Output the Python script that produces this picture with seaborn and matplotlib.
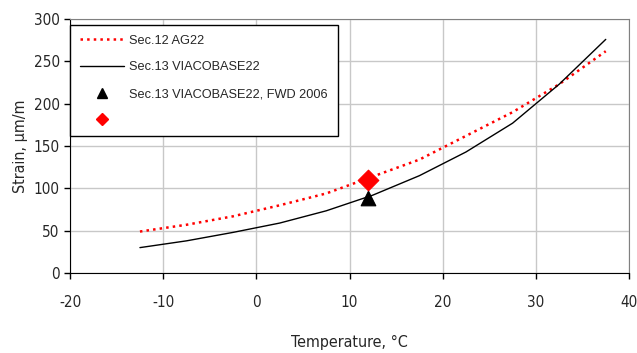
import pandas as pd
import numpy as np
import matplotlib
matplotlib.use("Agg")
import matplotlib.pyplot as plt
import seaborn as sns
from matplotlib.lines import Line2D

# values
temps = [-12.5, -7.5, -2.5, 2.5, 7.5, 12.5, 17.5, 22.5, 27.5, 32.5, 37.5]
strain_ag22 = [49, 57, 67, 80, 94, 114, 134, 162, 190, 223, 262]
strain_viacobase = [30, 38, 48, 59, 73.5, 92, 115, 143, 177, 223, 276]
fwd_temp = [12]
fwd_viacobase = [89]
fwd_ag22 = [110]

sns.set_style("white")
plt.rcParams['font.family'] = ['DejaVu Sans']
plt.rcParams['font.stretch'] = 'condensed'
plt.rcParams['axes.unicode_minus'] = False

df = pd.DataFrame({'Temperature': temps * 2,
                   'Strain': strain_ag22 + strain_viacobase,
                   'Series': ['Sec.12 AG22'] * len(temps) + ['Sec.13 VIACOBASE22'] * len(temps)})

fig = plt.figure(figsize=(6.37, 3.53), dpi=100)
ax = fig.add_axes([0.11, 0.2266, 0.8775, 0.7194])

sns.lineplot(data=df[df.Series == 'Sec.12 AG22'], x='Temperature', y='Strain',
             color='red', linestyle=':', linewidth=1.8, ax=ax, legend=False)
sns.lineplot(data=df[df.Series == 'Sec.13 VIACOBASE22'], x='Temperature', y='Strain',
             color='black', linewidth=1.0, ax=ax, legend=False)
sns.scatterplot(x=fwd_temp, y=fwd_viacobase, marker='^', s=110, color='black',
                edgecolor='black', ax=ax, zorder=4)
sns.scatterplot(x=fwd_temp, y=fwd_ag22, marker='D', s=110, color='red',
                edgecolor='red', ax=ax, zorder=5)

ax.set_xlim(-20, 40)
ax.set_ylim(0, 300)
ax.set_xticks(range(-20, 41, 10))
ax.set_yticks(range(0, 301, 50))
ax.grid(True, color='#c8c8c8', linewidth=1.0)
ax.set_axisbelow(True)
for side in ['top', 'right']:
    ax.spines[side].set_color('#808080')
for side in ['left', 'bottom']:
    ax.spines[side].set_color('black')
ax.tick_params(axis='both', direction='out', length=4, width=1, color='black',
               labelsize=11, bottom=True, left=True)
ax.tick_params(axis='x', pad=12)

ax.set_xlabel('Temperature, °C', fontsize=11.5, labelpad=18)
ax.set_ylabel('Strain, μm/m', fontsize=11.5, labelpad=4)

handles = [Line2D([], [], color='red', linestyle=':', linewidth=1.8),
           Line2D([], [], color='black', linewidth=1.0),
           Line2D([], [], color='black', marker='^', linestyle='None', markersize=7),
           Line2D([], [], color='red', marker='D', linestyle='None', markersize=6)]
labels = ['Sec.12 AG22', 'Sec.13 VIACOBASE22', 'Sec.13 VIACOBASE22, FWD 2006', '']
leg = ax.legend(handles, labels, loc='upper left', bbox_to_anchor=(0.0, 0.976),
                frameon=True, fancybox=False, edgecolor='black', framealpha=1,
                handlelength=3.5, handletextpad=0.4, labelspacing=1.15,
                borderpad=0.75, borderaxespad=0,
                prop={'family': ['Liberation Sans', 'DejaVu Sans'], 'size': 9.2,
                      'stretch': 'normal'})
leg.get_frame().set_linewidth(1.0)

plt.savefig('out.png', dpi=100)
plt.close()
